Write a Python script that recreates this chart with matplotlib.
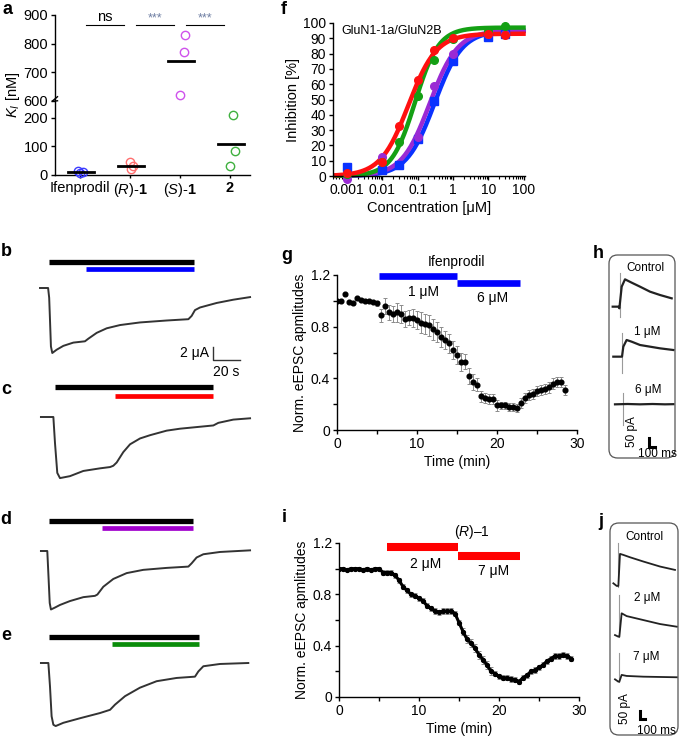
import numpy as np
import matplotlib
matplotlib.use('Agg')
import matplotlib.pyplot as plt
from matplotlib.patches import FancyBboxPatch
from matplotlib.ticker import NullLocator, LogLocator

plt.rcParams['font.family'] = ['Liberation Sans', 'DejaVu Sans']
plt.rcParams['mathtext.fontset'] = 'custom'
plt.rcParams['mathtext.rm'] = 'Liberation Sans'
plt.rcParams['mathtext.it'] = 'Liberation Sans:italic'
plt.rcParams['mathtext.bf'] = 'Liberation Sans:bold'
plt.rcParams['font.size'] = 10
plt.rcParams['axes.linewidth'] = 1.0
plt.rcParams['xtick.major.width'] = 1.0
plt.rcParams['ytick.major.width'] = 1.0

# ---- panel a: Ki values ----
ki_labels = ['Ifenprodil', r'($\it{R}$)-$\bf{1}$', r'($\it{S}$)-$\bf{1}$', r'$\bf{2}$']
ki_values = [[14, 9, 8], [45, 31, 22], [829, 771, 620], [210, 84, 32]]
ki_colors = ['#3c3cff', '#ff6e6e', '#cf52ec', '#3fb03f']
ki_sig = [(0, 1, 'ns'), (1, 2, '***'), (2, 3, '***')]

# ---- panel f: concentration-response ----
f_conc = [0.001, 0.01, 0.03, 0.1, 0.3, 1, 10, 30]
f_blue = [6, 4, 7, 24, 49, 75, 91, 93]
f_purple = [-2, 12.5, np.nan, 25.5, 59, 80, 93, 93]
f_green = [1, 9, 22, 52, 76, 89.5, 94.5, 98]
f_red = [2, 9, 32.5, 62.5, 82.5, 90, 93, 92]
f_ic50 = [0.30, 0.22, 0.085, 0.055]
f_slope = [1.1, 1.1, 1.3, 1.1]
f_top = [95, 95, 97, 93]
f_colors = ['#0a32ff', '#9a2ad4', '#14a014', '#ff1010']
f_markers = ['s', 'o', 'o', 'o']

# ---- panels b-e: two-electrode currents (time s, current uA) ----
trace_b_t = [0, 6.0, 6.8, 7.4, 8.1, 9.1, 12.3, 17.3, 24.7, 33.3, 35.8, 42, 49.4, 59.3, 74, 93.8,
             109.9, 112.3, 114.8, 118.5, 130.9, 143.2, 155.6]
trace_b_i = [0, 0, -1.5, -4.9, -9.0, -10.0, -9.5, -8.9, -8.4, -8.2, -7.8, -6.9, -6.2, -5.7, -5.3, -5.0,
             -4.8, -4.3, -3.4, -3.0, -2.3, -1.8, -1.4]
trace_c_t = [0.7, 9.9, 11.1, 12.8, 14.8, 22.2, 32.1, 44.4, 51.9, 54.3, 56.8, 61.7, 66.7, 74.1, 81.5,
             93.8, 103.7, 118.5, 128.4, 132.1, 143.2, 155.6]
trace_c_i = [0, 0, -4.0, -8.6, -9.4, -9.1, -8.3, -7.9, -7.7, -7.5, -7.0, -5.4, -4.2, -3.3, -2.8,
             -2.1, -1.8, -1.5, -1.3, -0.9, -0.4, -0.2]
trace_d_t = [0.7, 5.4, 6.4, 7.2, 8.1, 11.1, 14.8, 22.2, 32.1, 40.7, 42.5, 46.9, 54.3, 64.2, 76.5,
             93.8, 109.9, 112.3, 116, 121, 133.3, 155.6]
trace_d_i = [0, 0, -4.4, -8.0, -9.0, -8.7, -8.3, -7.7, -7.1, -6.9, -6.7, -5.5, -4.3, -3.4, -2.9,
             -2.6, -2.4, -1.9, -1.0, -0.5, -0.15, 0.1]
trace_e_t = [0.7, 6.2, 7.4, 8.6, 9.9, 11.6, 17.3, 29.6, 44.4, 51.9, 55.6, 63, 74, 86.4, 101.2,
             114.8, 117.3, 121, 133.3, 154.3]
trace_e_i = [0, 0, -3.6, -8.2, -9.5, -9.7, -9.2, -8.5, -7.7, -7.2, -6.4, -5.1, -3.8, -2.8, -2.3,
             -2.1, -1.3, -0.5, -0.15, 0]
# agonist bar (start, end) and compound bar (start, end), seconds
bars_agonist = [(6.9, 114), (11.1, 128.4), (6.9, 113.6), (6.9, 117.8)]
bars_drug = [(34.3, 114), (55.6, 128.4), (46.2, 113.6), (53.6, 117.8)]
drug_colors = ['#0000ff', '#ff0000', '#a000cc', '#0a8c0a']

# ---- panel g: ifenprodil eEPSC time course ----
g_time = np.arange(0, 28.75, 0.5)
g_mean = [1.00, 1.00, 1.05, 0.99, 0.98, 1.02, 1.01, 1.00, 1.00, 0.99,
          0.98,
          0.89, 0.96, 0.91, 0.90, 0.91, 0.90, 0.86, 0.87, 0.87, 0.85, 0.83, 0.82, 0.81, 0.78,
          0.76, 0.72, 0.70, 0.67, 0.62,
          0.58, 0.53, 0.53, 0.42, 0.37, 0.35,
          0.26, 0.25, 0.24, 0.24, 0.19, 0.19, 0.19, 0.18, 0.18, 0.17,
          0.21, 0.25, 0.27, 0.28, 0.30, 0.31, 0.32, 0.33, 0.36, 0.37, 0.37, 0.31]
g_sem = [0.01, 0.01, 0.01, 0.01, 0.01, 0.01, 0.01, 0.01, 0.01, 0.01,
         0.02,
         0.05, 0.06, 0.06, 0.06, 0.07, 0.07, 0.06, 0.06, 0.07, 0.07, 0.08, 0.08, 0.08, 0.08,
         0.08, 0.08, 0.07, 0.07, 0.07,
         0.07, 0.07, 0.06, 0.06, 0.06, 0.05,
         0.04, 0.04, 0.04, 0.04, 0.04, 0.03, 0.03, 0.03, 0.03, 0.03,
         0.04, 0.04, 0.04, 0.04, 0.04, 0.04, 0.04, 0.04, 0.04, 0.04, 0.04, 0.04]

# ---- panel i: (R)-1 eEPSC time course ----
i_time = np.arange(0, 29.25, 0.5)
i_mean = [1.00, 1.00, 0.99, 1.00, 1.00, 1.00, 0.99, 1.00, 0.99, 1.00,
          1.00, 0.97, 0.97, 0.97, 0.95, 0.91, 0.86, 0.83, 0.80, 0.79,
          0.77, 0.75, 0.71, 0.69, 0.67, 0.66, 0.67, 0.67, 0.67, 0.65,
          0.58, 0.51, 0.45, 0.42, 0.38, 0.33, 0.29, 0.25, 0.20, 0.18,
          0.16, 0.15, 0.15, 0.14, 0.135, 0.12, 0.15, 0.17, 0.20, 0.21,
          0.23, 0.25, 0.28, 0.30, 0.32, 0.32, 0.33, 0.32, 0.30]
i_sem = [0.01] * 11 + [0.02] * 20 + [0.03] * 8 + [0.02] * 20

# ---- panels h, j: example eEPSCs (time ms, current pA) ----
h_ctrl_t = [0, 91, 107, 144, 197, 304, 437, 597, 757, 944]
h_ctrl_i = [0, 0, -10, 120, 164, 144, 120, 90, 70, 50]
h_low_t = [0, 107, 139, 160, 213, 293, 427, 587, 747, 960]
h_low_i = [0, 0, 0, 60, 100, 90, 70, 60, 50, 40]
h_high_t = [0, 200, 400, 600, 800, 933]
h_high_i = [0, 2, 0, 2, 0, 1]
h_stim = [(117, 200, -60), (139, 140, -100), (123, 66, -124)]
h_names = ['Control', '1 μM', '6 μM']

j_ctrl_t = [0, 67, 100, 133, 200, 333, 600, 933, 1233]
j_ctrl_i = [0, -18, -18, 200, 193, 177, 148, 114, 91]
j_low_t = [0, 67, 87, 133, 233, 567, 900, 1233]
j_low_i = [0, -11, -11, 148, 129, 102, 75, 57]
j_high_t = [0, 67, 87, 133, 233, 567, 1233]
j_high_i = [0, -16, -16, 30, 23, 18, 14]
j_stim = [(100, 272, -23), (87, 272, -11), (87, 177, -16)]
j_names = ['Control', '2 μM', '7 μM']

W, H = 685, 744
fig = plt.figure(figsize=(W / 100, H / 100), dpi=100)


def add_ax(left, top, right, bottom):
    return fig.add_axes([left / W, 1 - bottom / H, (right - left) / W, (bottom - top) / H])


def panel_label(x, y, s):
    fig.text(x / W, 1 - y / H, s, fontsize=13, fontweight='bold', ha='center', va='center')


def clean(ax):
    ax.spines['top'].set_visible(False)
    ax.spines['right'].set_visible(False)


# ================= panel a =================
def ki_fwd(y):
    y = np.asarray(y, float)
    return np.where(y <= 230, y, np.where(y >= 600, y - 340, 230 + (y - 230) * 30 / 370))


def ki_inv(v):
    v = np.asarray(v, float)
    return np.where(v <= 230, v, np.where(v >= 260, v + 340, 230 + (v - 230) * 370 / 30))


ax = add_ax(55, 15, 250, 175)
clean(ax)
ax.set_yscale('function', functions=(ki_fwd, ki_inv))
ax.set_ylim(0, 900)
ax.set_xlim(-0.5, 3.4)
ax.set_yticks([0, 100, 200, 600, 700, 800, 900])
ax.yaxis.set_minor_locator(NullLocator())
ax.set_xticks(range(4))
ax.set_xticklabels(ki_labels, fontsize=10.5)
ax.tick_params(axis='y', labelsize=10.5, length=3, pad=2)
ax.tick_params(axis='x', length=2, pad=2)
ax.set_ylabel(r'$K_I$ [nM]', fontsize=10.5, labelpad=1)
jit = [(-0.05, 0.05, 0.0), (0.0, 0.05, 0.02), (0.1, 0.08, 0.0), (0.06, 0.1, 0.0)]
for k, vals in enumerate(ki_values):
    xs = [k + d for d in jit[k]]
    ax.plot(xs, vals, 'o', mfc='none', mec=ki_colors[k], ms=6, mew=1.0, clip_on=False, zorder=3)
    m = np.mean(vals)
    ax.plot([k + 0.02 - 0.26, k + 0.02 + 0.26], [m, m], color='k', lw=2.0, zorder=4)
for i0, i1, s in ki_sig:
    c = (i0 + i1) / 2
    ax.plot([c - 0.38, c + 0.38], [865, 865], color='k', lw=0.8, clip_on=False)
    ax.text(c, 868, s, ha='center', va='bottom', fontsize=10.5 if s == 'ns' else 9,
            color='k' if s == 'ns' else '#6f7fa3')
# axis break marks
for yb in (585, 602):
    ax.plot([-0.55, -0.45], [yb - 12, yb + 12], color='k', lw=1.0, clip_on=False)
panel_label(8, 9, 'a')

# ================= panel f =================
ax = add_ax(333, 23, 525, 176)
clean(ax)
ax.set_xscale('log')
ax.set_xlim(0.0004, 110)
ax.set_ylim(0, 100)
ax.set_yticks(range(0, 101, 10))
ax.set_xticks([0.001, 0.01, 0.1, 1, 10, 100])
ax.set_xticklabels(['0.001', '0.01', '0.1', '1', '10', '100'])
ax.xaxis.set_minor_locator(LogLocator(base=10, subs=np.arange(2, 10), numticks=20))
ax.tick_params(labelsize=10, length=3, pad=2)
ax.tick_params(axis='x', which='minor', length=2, width=0.8)
ax.set_ylabel('Inhibition [%]', fontsize=10.5, labelpad=2)
ax.set_xlabel('Concentration [μM]', fontsize=10.5, labelpad=3)
fit_x = np.logspace(np.log10(0.0005), 2, 200)
for k, ys in enumerate([f_blue, f_purple, f_green, f_red]):
    fit_y = f_top[k] / (1 + (f_ic50[k] / fit_x) ** f_slope[k])
    ax.plot(fit_x, fit_y, color=f_colors[k], lw=3.2, clip_on=False, zorder=2)
    ax.plot(f_conc, ys, f_markers[k], color=f_colors[k], ms=5.5, clip_on=False, zorder=3)
ax.text(0.0007, 95, 'GluN1-1a/GluN2B', fontsize=9, va='center')
panel_label(284, 9, 'f')

# ================= panels b-e =================
traces = [(trace_b_t, trace_b_i), (trace_c_t, trace_c_i), (trace_d_t, trace_d_i), (trace_e_t, trace_e_i)]
baselines = [288, 417, 551, 663]
bar_offsets = [(26, 19), (30, 21), (30, 23), (26.5, 19.5)]
px_per_s, px_per_ua = 1.35, 6.5
for k, (tt, ii) in enumerate(traces):
    b = baselines[k]
    ax = add_ax(40, b - 40, 250, b + 75)
    ax.set_xlim(0, 210 / px_per_s)
    ax.set_ylim(-75 / px_per_ua, 40 / px_per_ua)
    ax.axis('off')
    ax.plot(tt, ii, color='#333333', lw=1.4, solid_joinstyle='round', clip_on=False)
    ya = bar_offsets[k][0] / px_per_ua
    yd = bar_offsets[k][1] / px_per_ua
    ax.plot(bars_agonist[k], [ya, ya], color='k', lw=3.8, solid_capstyle='butt', clip_on=False)
    ax.plot(bars_drug[k], [yd, yd], color=drug_colors[k], lw=3.4, solid_capstyle='butt', clip_on=False)
    if k == 0:
        x0, y0 = 128, -72 / px_per_ua
        ax.plot([x0, x0, x0 + 20], [y0 + 2, y0, y0], color='#333333', lw=1.0, clip_on=False)
        ax.text(x0 - 3, y0 + 1.1, '2 μA', ha='right', va='center', fontsize=10)
        ax.text(x0 + 10, y0 - 0.8, '20 s', ha='center', va='top', fontsize=10)
for lab, y in zip('bcde', [252, 390, 519, 636]):
    panel_label(6, y, lab)

# ================= panels g and i =================
def time_course(ax, t, m, s, dense):
    clean(ax)
    ax.set_xlim(0, 30)
    ax.set_ylim(0, 1.2)
    ax.set_xticks(range(0, 31, 5))
    ax.set_xticklabels(['0', '', '10', '', '20', '', '30'])
    ax.set_yticks(np.arange(0, 1.21, 0.2))
    ax.set_yticklabels(['0', '', '0.4', '', '0.8', '', '1.2'])
    ax.tick_params(labelsize=10, length=3, pad=2)
    ax.set_ylabel('Norm. eEPSC apmlitudes', fontsize=10, labelpad=3)
    ax.set_xlabel('Time (min)', fontsize=10, labelpad=3)
    ax.errorbar(t, m, yerr=s, fmt='none', ecolor='#8c8c8c', elinewidth=0.7, capsize=1.5, capthick=0.7)
    if dense:
        ax.plot(t, m, color='k', lw=2.2)
    ax.plot(t, m, 'o', color='k', ms=3.4 if not dense else 2.8)


ax = add_ax(337, 275, 577, 430)
time_course(ax, g_time, g_mean, g_sem, False)
ax.plot([5.2, 15], [1.195, 1.195], color='#0000ff', lw=4.8, solid_capstyle='butt', clip_on=False)
ax.plot([15, 22.9], [1.14, 1.14], color='#0000ff', lw=4.8, solid_capstyle='butt', clip_on=False)
ax.text(14.9, 1.30, 'Ifenprodil', ha='center', va='center', fontsize=10)
ax.text(10.75, 1.065, '1 μM', ha='center', va='center', fontsize=10)
ax.text(19.5, 1.025, '6 μM', ha='center', va='center', fontsize=10)
panel_label(287, 256, 'g')

ax = add_ax(339, 543, 579, 697)
time_course(ax, i_time, i_mean, i_sem, True)
ax.plot([6.0, 14.9], [1.168, 1.168], color='#ff0000', lw=5.8, solid_capstyle='butt', clip_on=False)
ax.plot([14.9, 22.6], [1.10, 1.10], color='#ff0000', lw=5.8, solid_capstyle='butt', clip_on=False)
ax.text(16.6, 1.285, r'($\it{R}$)–1', ha='center', va='center', fontsize=10)
ax.text(10.8, 1.035, '2 μM', ha='center', va='center', fontsize=10)
ax.text(19.3, 0.985, '7 μM', ha='center', va='center', fontsize=10)
panel_label(284, 517, 'i')

# ================= panels h and j =================
def epsc_box(rect, ms_px, pa_px, series, starts, bases, stims, names, name_pos, lcorner, lw):
    l, t, r, b = rect
    ax = add_ax(l, t, r, b)
    w, h = r - l, b - t
    ax.set_xlim(0, w * ms_px)
    ax.set_ylim(-h * pa_px, 0)
    ax.axis('off')
    box = FancyBboxPatch((0, 0), 1, 1, boxstyle='round,pad=0,rounding_size=0.13',
                         mutation_aspect=w / h, transform=ax.transAxes, fill=False,
                         ec='#555555', lw=0.9, clip_on=False)
    ax.add_patch(box)
    for (tt, ii), x0, y0, (ts, up, dn), nm, (nx, ny) in zip(series, starts, bases, stims, names, name_pos):
        ax.plot([x0 + ts, x0 + ts], [y0 + dn, y0 + up], color='#9a9a9a', lw=0.8)
        ax.plot(np.array(tt) + x0, np.array(ii) + y0, color='#222222', lw=lw, solid_joinstyle='round')
        ax.text(nx, ny, nm, transform=ax.transAxes, ha='center', va='center', fontsize=8.5)
    cx, cy = lcorner
    ax.plot([cx, cx, cx + 100], [cy + 50, cy, cy], color='k', lw=2.2, solid_joinstyle='miter')
    return ax


ax = epsc_box((609, 255, 675, 458), 16, 6,
              [(h_ctrl_t, h_ctrl_i), (h_low_t, h_low_i), (h_high_t, h_high_i)],
              [59, 69, 96], [-310, -610, -896], h_stim, h_names,
              [(0.545, 0.936), (0.576, 0.621), (0.59, 0.335)], (640, -1150), 1.6)
ax.text(0.35, 0.13, '50 pA', transform=ax.transAxes, rotation=90, ha='center', va='center', fontsize=8.5)
ax.text(0.74, 0.018, '100 ms', transform=ax.transAxes, ha='center', va='center', fontsize=8.5)
panel_label(598, 254, 'h')

ax = epsc_box((610, 523, 678, 735), 20, 6.8,
              [(j_ctrl_t, j_ctrl_i), (j_low_t, j_low_i), (j_high_t, j_high_i)],
              [67, 100, 100], [-410, -762, -1063], j_stim, j_names,
              [(0.51, 0.934), (0.54, 0.646), (0.54, 0.368)], (600, -1330), 1.3)
ax.text(0.22, 0.125, '50 pA', transform=ax.transAxes, rotation=90, ha='center', va='center', fontsize=8.5)
ax.text(0.69, 0.02, '100 ms', transform=ax.transAxes, ha='center', va='center', fontsize=8.5)
panel_label(601, 521, 'j')

fig.savefig('out.png', dpi=100)
